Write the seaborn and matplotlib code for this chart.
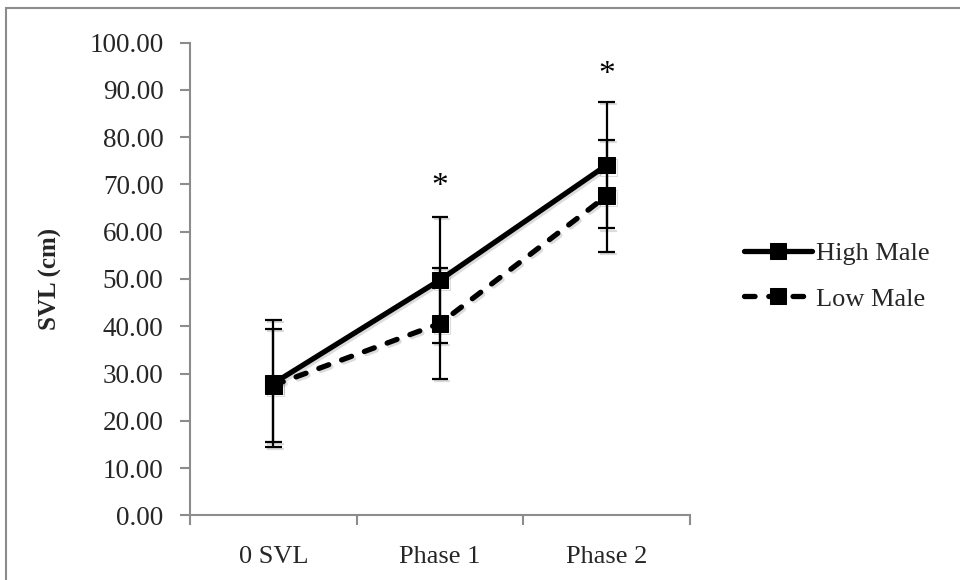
import matplotlib
matplotlib.use("Agg")
import matplotlib.pyplot as plt
import matplotlib.patheffects as pe
from matplotlib.patches import Rectangle
import numpy as np
import pandas as pd
import seaborn as sns

# Snout-vent length by measurement stage
stages = ["0 SVL", "Phase 1", "Phase 2"]
high_male = [27.9, 49.8, 74.1]
high_male_err = [13.4, 13.4, 13.4]
low_male = [27.5, 40.6, 67.6]
low_male_err = [11.9, 11.8, 11.8]
significant = [False, True, True]
star_level = [None, 69.5, 93.2]
yticks = [0, 10, 20, 30, 40, 50, 60, 70, 80, 90, 100]

sns.set_theme(style="white")
plt.rcParams["font.family"] = ["Liberation Serif", "DejaVu Serif"]

df = pd.DataFrame({
    "stage": list(range(len(stages))) * 2,
    "svl": high_male + low_male,
    "err": high_male_err + low_male_err,
    "group": ["High Male"] * len(stages) + ["Low Male"] * len(stages),
})

fig = plt.figure(figsize=(9.6, 5.8), dpi=100)
ax = fig.add_axes([190 / 960, 1 - 515.3 / 580, 500 / 960, (515.3 - 42.7) / 580])

# error bars first so the lines sit on top
for grp in ["High Male", "Low Male"]:
    sub = df[df["group"] == grp]
    ax.errorbar(sub["stage"], sub["svl"], yerr=sub["err"], fmt="none",
                ecolor="black", elinewidth=1.6, capsize=6, capthick=1.6,
                zorder=2)

sns.lineplot(data=df, x="stage", y="svl", style="group",
             dashes={"High Male": "", "Low Male": (2.0, 2.6)},
             markers={"High Male": "s", "Low Male": "s"},
             color="black", linewidth=3.8, markersize=12,
             markeredgecolor="black", ax=ax, zorder=3, legend=True)

for line in ax.get_lines():
    line.set_dash_capstyle("round")
    line.set_solid_capstyle("round")
    line.set_path_effects([pe.SimpleLineShadow(offset=(1.5, -1.5), alpha=0.15),
                           pe.Normal()])

for i, flag in enumerate(significant):
    if flag:
        ax.text(i, star_level[i], "*", ha="center", va="center",
                fontsize=24, color="black")

ax.set_xlim(-0.5, len(stages) - 0.5)
ax.set_ylim(0, 100)
ax.set_yticks(yticks)
ax.set_yticklabels([f"{v:.2f}" for v in yticks])
ax.set_xticks(np.arange(-0.5, len(stages), 1.0))
ax.set_xticklabels([])
ax.set_xticks(range(len(stages)), minor=True)
ax.set_xticklabels(stages, minor=True)
ax.tick_params(axis="x", which="minor", bottom=False, length=0, pad=22,
               labelsize=19)
ax.tick_params(axis="x", which="major", bottom=True, length=7, width=1.5,
               color="#8c8c8c", direction="out")
ax.tick_params(axis="y", left=True, length=7, width=1.5, color="#8c8c8c",
               direction="out", labelsize=19.5, pad=12)
ax.set_xlabel("")
ax.set_ylabel("SVL (cm)", fontsize=18, fontweight="bold", labelpad=20)

for side in ["top", "right"]:
    ax.spines[side].set_visible(False)
for side in ["left", "bottom"]:
    ax.spines[side].set_color("#8c8c8c")
    ax.spines[side].set_linewidth(1.5)

handles, labels = ax.get_legend_handles_labels()
leg = ax.legend(handles, labels, loc="center left",
                bbox_to_anchor=(733 / 960, 1 - 276 / 580),
                bbox_transform=fig.transFigure, frameon=False,
                fontsize=19, handlelength=2.6, handletextpad=0.15,
                labelspacing=0.85, borderaxespad=0)
for h in leg.get_lines():
    h.set_linewidth(3.8)
    h.set_markersize(12)
    h.set_path_effects([])

# outer chart frame
fig.patches.append(Rectangle((6 / 960, -0.1), 1.2, 1.1 - 8 / 580,
                             transform=fig.transFigure, fill=False,
                             edgecolor="#8c8c8c", linewidth=1.5))

fig.savefig("out.png", dpi=100)
